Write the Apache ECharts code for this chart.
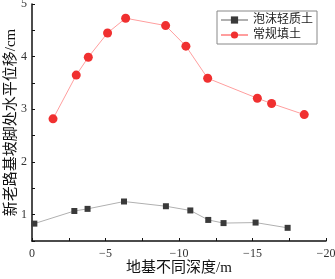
<!DOCTYPE html>
<html>
<head>
<meta charset="utf-8">
<script src="https://cdn.jsdelivr.net/npm/echarts@6/dist/echarts.min.js"></script>
<style>html,body{margin:0;padding:0;background:#fff}#c{width:335px;height:279px}</style>
</head>
<body>
<div id="c"></div>
<script>
var seriesNames = ['泡沫轻质土', '常规填土'];
var foamDepth = [-0.16, -2.88, -3.78, -6.26, -9.11, -10.77, -11.99, -13.03, -15.21, -17.39];
var foamValue = [0.83, 1.07, 1.11, 1.25, 1.16, 1.08, 0.90, 0.84, 0.85, 0.75];
var fillDepth = [-1.43, -3.01, -3.83, -5.14, -6.37, -9.09, -10.47, -11.95, -15.33, -16.30, -18.52];
var fillValue = [2.82, 3.65, 3.99, 4.45, 4.73, 4.59, 4.20, 3.59, 3.21, 3.11, 2.90];
var xTicks = [0, -5, -10, -15, -20];
var yTicks = [1, 2, 3, 4, 5];

function zip(a, b) { return a.map(function (v, i) { return [v, b[i]]; }); }
var serif = 'Liberation Serif, DejaVu Serif, Noto Sans CJK SC';
var chart = echarts.init(document.getElementById('c'), null, { renderer: 'canvas' });
chart.setOption({
  animation: false,
  grid: { left: 32, right: 9, top: 4, bottom: 38, containLabel: false, outerBoundsMode: 'none' },
  legend: {
    left: 217, top: 11, orient: 'vertical',
    borderColor: '#888', borderWidth: 1, padding: [3, 4, 3, 3], itemGap: 3,
    itemWidth: 27, itemHeight: 9,
    textStyle: { fontFamily: serif, fontSize: 12, color: '#222', padding: [0, 0, 0, 0] },
    data: seriesNames
  },
  xAxis: {
    type: 'value', min: -20, max: 0, interval: 2.5, inverse: true,
    name: '地基不同深度/m', nameLocation: 'middle', nameGap: 20, nameMoveOverlap: false,
    nameTextStyle: { fontFamily: serif, fontSize: 15, color: '#111' },
    axisLine: { show: true, onZero: false, lineStyle: { color: '#111', width: 1.5 } },
    axisTick: { show: true, inside: true, length: 3, lineStyle: { color: '#111' } },
    axisLabel: {
      fontFamily: serif, fontSize: 12, color: '#333', margin: 7,
      formatter: function (v) { return xTicks.indexOf(v) >= 0 ? (v < 0 ? '\u2212' + (-v) : String(v)) : ''; }
    },
    splitLine: { show: false }
  },
  yAxis: {
    type: 'value', min: 0.5, max: 5, interval: 0.5,
    name: '新老路基坡脚处水平位移/cm', nameLocation: 'middle', nameGap: 13, nameMoveOverlap: false,
    nameTextStyle: { fontFamily: serif, fontSize: 15, color: '#111' },
    axisLine: { show: true, onZero: false, lineStyle: { color: '#111', width: 1.5 } },
    axisTick: { show: true, inside: true, length: 3, lineStyle: { color: '#111' } },
    axisLabel: {
      fontFamily: serif, fontSize: 12, color: '#333', margin: 5,
      formatter: function (v) { return yTicks.indexOf(v) >= 0 ? String(v) : ''; }
    },
    splitLine: { show: false }
  },
  series: [
    {
      name: seriesNames[0], type: 'line', data: zip(foamDepth, foamValue),
      symbol: 'rect', symbolSize: 6,
      itemStyle: { color: '#3a3a3a' },
      lineStyle: { color: '#b0b0b0', width: 1 }
    },
    {
      name: seriesNames[1], type: 'line', data: zip(fillDepth, fillValue),
      symbol: 'circle', symbolSize: 9,
      itemStyle: { color: '#f03030' },
      lineStyle: { color: '#ff9e9e', width: 1 }
    }
  ]
});
</script>
</body>
</html>
